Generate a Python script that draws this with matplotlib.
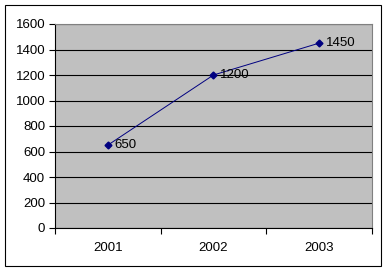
import matplotlib
matplotlib.use('Agg')
import matplotlib.pyplot as plt
from matplotlib.patches import Rectangle

plt.rcParams['font.family'] = ['Liberation Sans', 'DejaVu Sans']

years = ['2001', '2002', '2003']
values = [650, 1200, 1450]

fig = plt.figure(figsize=(3.88, 2.72), dpi=100)
ax = fig.add_axes([55/388, 1-228/272, (372-55)/388, (228-24)/272])

ax.set_facecolor('#C0C0C0')
x = list(range(len(years)))
ax.plot(x, values, color='#000080', linewidth=0.7, marker='D', markersize=3.5,
        markerfacecolor='#000080', markeredgecolor='#000080')
for xi, v in zip(x, values):
    ax.annotate(str(v), (xi, v), xytext=(5, 0), textcoords='offset points',
                va='center', ha='left', fontsize=9.5, color='black')

ax.set_xlim(-0.5, 2.5)
ax.set_ylim(0, 1600)
ax.set_yticks(range(0, 1601, 200))
ax.set_xticks([-0.5, 0.5, 1.5, 2.5])
ax.set_xticklabels([])
ax.set_xticks(x, minor=True)
ax.set_xticklabels(years, minor=True)
ax.tick_params(axis='x', which='minor', length=0, pad=10, labelsize=9.5)
ax.tick_params(axis='x', which='major', length=4, direction='out', width=0.8)
ax.tick_params(axis='y', length=4, direction='out', width=0.8, labelsize=9.5, pad=3)
ax.grid(axis='y', color='black', linewidth=0.8)
ax.set_axisbelow(True)

for s in ['top', 'right']:
    ax.spines[s].set_color('#808080')
    ax.spines[s].set_linewidth(0.8)
for s in ['left', 'bottom']:
    ax.spines[s].set_color('black')
    ax.spines[s].set_linewidth(0.8)

fig.patches.append(Rectangle((5/388, 1-266/272), (381-5)/388, (266-5)/272,
                             transform=fig.transFigure, fill=False,
                             edgecolor='black', linewidth=0.8))

fig.savefig('out.png', dpi=100)
